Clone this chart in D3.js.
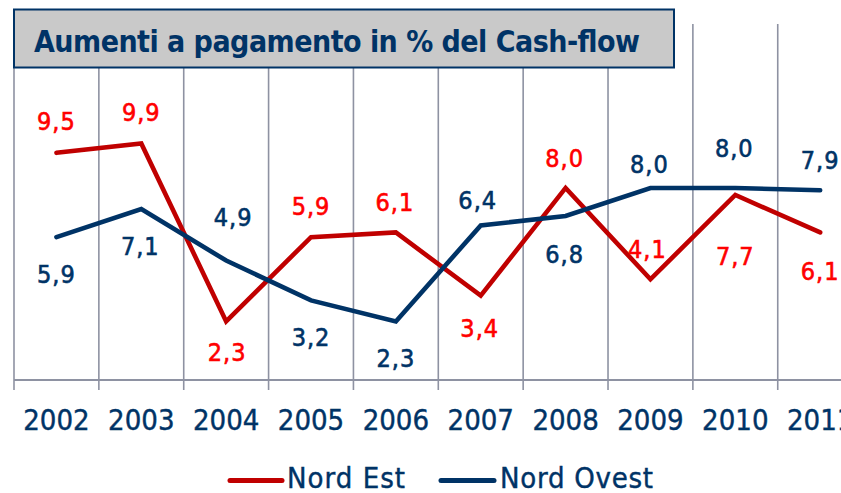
<!DOCTYPE html>
<html>
<head>
<meta charset="utf-8">
<script src="https://cdn.jsdelivr.net/npm/d3@7"></script>
<style>
  html, body { margin: 0; padding: 0; background: #ffffff; }
  svg { display: block; }
  text { font-family: "DejaVu Sans Condensed", "DejaVu Sans", sans-serif; font-stretch: condensed; }
</style>
</head>
<body>
<svg id="chart" width="841" height="493"></svg>
<script>
// Data
const years = ["2002", "2003", "2004", "2005", "2006", "2007", "2008", "2009", "2010", "2011"];
const nordEst = [9.5, 9.9, 2.3, 5.9, 6.1, 3.4, 8.0, 4.1, 7.7, 6.1];
const nordOvest = [5.9, 7.1, 4.9, 3.2, 2.3, 6.4, 6.8, 8.0, 8.0, 7.9];
const seriesNames = ["Nord Est", "Nord Ovest"];
const titleText = "Aumenti a pagamento in % del Cash-flow";

// Label placement (baseline offset from the point, px)
const labelDyNE = [-23, -22, 40, -22, -21, 41, -21, -21, 70, 48];
const labelDxNE = [0, 0, 1, 0, -1, -1, -1, -3, 0, 0];
const labelDyNO = [46, 46, -35, 46, 46, -16, 47, -15, -31, -21];
const labelDxNO = [0, -1, 7, 0, 0, -3, -1, -1, -1, 0];

const svg = d3.select("#chart");

const left = 14, bandW = 84.86;
const x = d3.scaleBand().domain(years).range([left, left + bandW * years.length]).padding(0);
const y = d3.scaleLinear().domain([-0.2, 15]).range([380, 24]);

const gridColor = "#8e92a2";
const red = "#c00000", redLabel = "#ff0000";
const navy = "#003366";

// Vertical gridlines at category boundaries
const bounds = years.map(d => x(d));
svg.append("g").selectAll("line").data(bounds).join("line")
  .attr("x1", d => d).attr("x2", d => d)
  .attr("y1", y.range()[1]).attr("y2", 390)
  .attr("stroke", gridColor).attr("stroke-width", 1.6);

// Category axis
const xAxis = d3.axisBottom(x).tickSize(0).tickPadding(0);
const axisG = svg.append("g").attr("transform", `translate(0,${y.range()[0]})`).call(xAxis);
axisG.select(".domain").remove();
axisG.selectAll("text")
  .attr("y", 50).attr("dy", 0)
  .attr("fill", navy).attr("font-size", 29)
  .attr("stroke", navy).attr("stroke-width", 0.4);
svg.append("line")
  .attr("x1", left).attr("x2", x.range()[1])
  .attr("y1", y.range()[0]).attr("y2", y.range()[0])
  .attr("stroke", gridColor).attr("stroke-width", 1.8);

// Lines
const cx = d => x(d) + x.bandwidth() / 2;
const line = d3.line().x(d => cx(d.year)).y(d => y(d.v));
const series = [
  { vals: nordEst, color: red, lab: redLabel, dy: labelDyNE, dx: labelDxNE },
  { vals: nordOvest, color: navy, lab: navy, dy: labelDyNO, dx: labelDxNO }
];
series.forEach(s => {
  const pts = s.vals.map((v, i) => ({ year: years[i], v }));
  svg.append("path").datum(pts)
    .attr("d", line)
    .attr("fill", "none")
    .attr("stroke", s.color)
    .attr("stroke-width", 4.6)
    .attr("stroke-linecap", "round")
    .attr("stroke-linejoin", "miter");
});
// Value labels
series.forEach(s => {
  svg.append("g").selectAll("text").data(s.vals).join("text")
    .attr("x", (v, i) => cx(years[i]) + s.dx[i])
    .attr("y", (v, i) => y(v) + s.dy[i])
    .attr("text-anchor", "middle")
    .attr("font-size", 25)
    .attr("letter-spacing", 1)
    .attr("fill", s.lab)
    .attr("stroke", s.lab).attr("stroke-width", 0.6)
    .text(v => d3.format(".1f")(v).replace(".", ","));
});

// Title box
svg.append("rect")
  .attr("x", 14).attr("y", 9.5).attr("width", 660).attr("height", 58)
  .attr("fill", "#c9c9c9").attr("stroke", navy).attr("stroke-width", 2);
svg.append("text")
  .attr("x", 34).attr("y", 51.5)
  .attr("font-size", 30).attr("font-weight", "bold")
  .attr("fill", navy)
  .attr("textLength", 606).attr("lengthAdjust", "spacing")
  .text(titleText);

// Legend
const legend = [
  { name: seriesNames[0], color: red, x0: 230, x1: 282, tx: 287, w: 118 },
  { name: seriesNames[1], color: navy, x0: 441, x1: 494, tx: 500, w: 153 }
];
const lg = svg.append("g");
legend.forEach(l => {
  lg.append("line")
    .attr("x1", l.x0).attr("x2", l.x1).attr("y1", 480.5).attr("y2", 480.5)
    .attr("stroke", l.color).attr("stroke-width", 5).attr("stroke-linecap", "round");
  lg.append("text")
    .attr("x", l.tx).attr("y", 488)
    .attr("font-size", 29).attr("fill", navy)
    .attr("stroke", navy).attr("stroke-width", 0.4)
    .attr("textLength", l.w).attr("lengthAdjust", "spacing")
    .text(l.name);
});
</script>
</body>
</html>
